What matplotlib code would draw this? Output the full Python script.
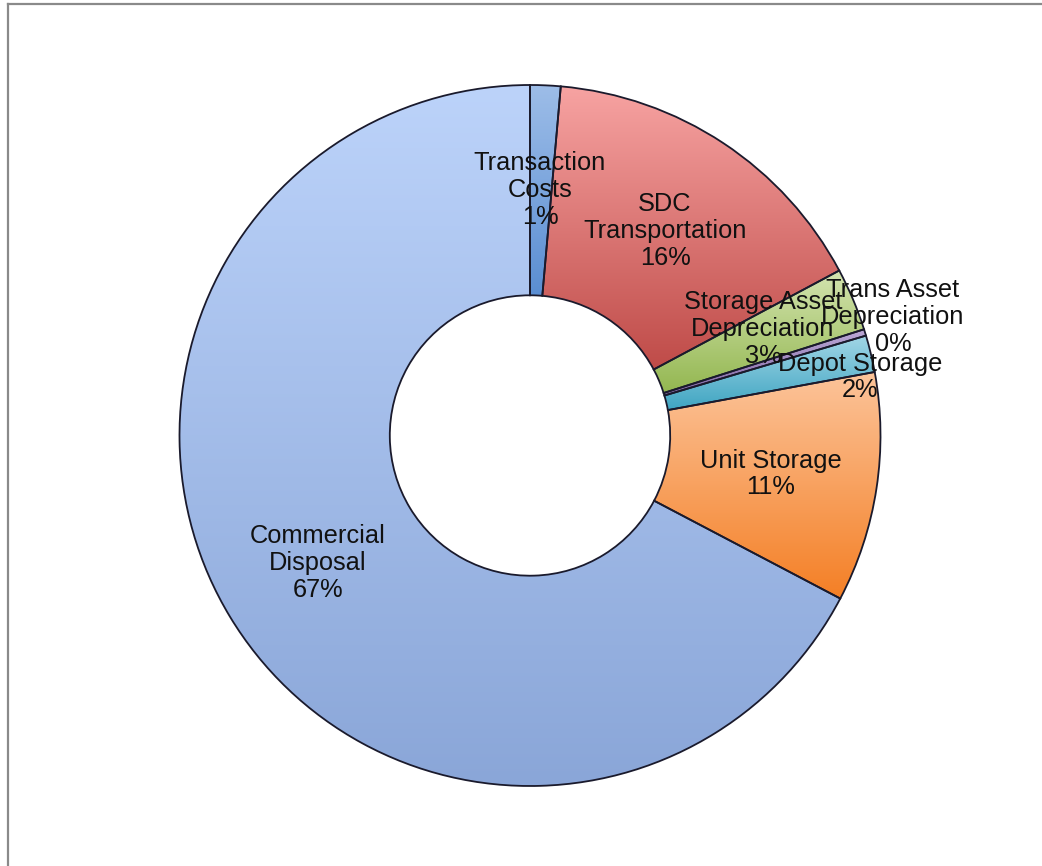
import numpy as np
import matplotlib
matplotlib.use("Agg")
import matplotlib.pyplot as plt
from matplotlib.lines import Line2D
from matplotlib.colors import to_rgb

# ---- data ----
categories = ["Transaction\nCosts", "SDC\nTransportation", "Storage Asset\nDepreciation",
              "Trans Asset\nDepreciation", "Depot Storage", "Unit Storage",
              "Commercial\nDisposal"]
values = [1.4, 15.8, 2.9, 0.3, 1.7, 10.6, 67.3]

# ---- style ----
grad_top = ["#9dbde8", "#f7a3a2", "#d4e4b0", "#bba8d6", "#a2d6e6", "#fcc49a", "#bcd3fa"]
grad_bot = ["#5a8ed2", "#bf4b48", "#93b750", "#8064a2", "#3fa5c2", "#f47f25", "#8aa6d8"]
# label anchor positions in pixels (layout)
label_px = [(540, 190), (665, 231), (763, 329), (893, 317), (860, 377), (771, 474), (318, 563)]

W, H, DPI = 1042, 866, 100
cx, cy, R = 530.0, 435.5, 350.5

fig = plt.figure(figsize=(W / DPI, H / DPI), dpi=DPI)
fig.patch.set_facecolor("white")
ax = fig.add_axes([(cx - R) / W, (H - cy - R) / H, 2 * R / W, 2 * R / H])

wedges, _ = ax.pie(values, startangle=90, counterclock=False, radius=1.0,
                   wedgeprops=dict(width=0.6, edgecolor="#1a1a2c", linewidth=1.3))
ax.set_xlim(-1, 1)
ax.set_ylim(-1, 1)
ax.set_aspect("equal")
ax.axis("off")

# vertical gradients clipped to each wedge
N = 256
for w, ct, cb in zip(wedges, grad_top, grad_bot):
    bb = w.get_path().get_extents()
    t = np.linspace(0, 1, N)[:, None]
    c0 = np.array(to_rgb(ct)); c1 = np.array(to_rgb(cb))
    img = (c0[None, :] * (1 - t) + c1[None, :] * t)[:, None, :]
    im = ax.imshow(img, extent=[bb.x0, bb.x1, bb.y0, bb.y1], origin="upper",
                   aspect="auto", zorder=1, interpolation="bilinear")
    im.set_clip_path(w)
    w.set_facecolor("none")
    w.set_zorder(2)
ax.set_xlim(-1, 1)
ax.set_ylim(-1, 1)

for cat, v, (px, py) in zip(categories, values, label_px):
    x = (px - cx) / R
    y = (cy - py) / R
    ax.text(x, y, f"{cat}\n{v:.0f}%", ha="center", va="center", fontsize=18.3,
            family=["Liberation Sans", "DejaVu Sans"], color="#111111",
            linespacing=1.15, zorder=5, clip_on=False)

# figure border (left and top visible)
fig.add_artist(Line2D([7.5 / W, 7.5 / W], [0, 1 - 4 / H], transform=fig.transFigure,
                      color="#8a8a8a", linewidth=1.6))
fig.add_artist(Line2D([7.5 / W, 1], [1 - 4 / H, 1 - 4 / H], transform=fig.transFigure,
                      color="#8a8a8a", linewidth=1.6))

fig.savefig("out.png", dpi=DPI, facecolor="white")
